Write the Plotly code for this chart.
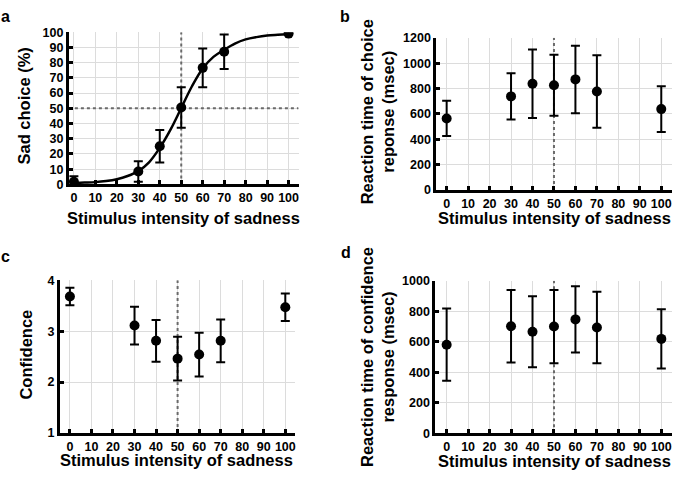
import plotly.graph_objects as go

W, H = 675, 483

# ---- data ----
stim = [0, 30, 40, 50, 60, 70, 100]
sad_choice = [1.7, 8.5, 25.1, 50.6, 76.6, 87.2, 99.1]
sad_choice_err = [3.6, 6.8, 10.7, 13.3, 12.8, 11.4, 0.0]

curve_x = [0, 5, 10, 15, 20, 25, 30, 35, 40, 45, 50, 55, 60, 65, 70, 75, 80, 85, 90, 95, 100]
curve_y = [1.0, 1.2, 1.5, 2.2, 3.4, 5.5, 8.7, 14.5, 24.0, 36.0, 50.2, 64.5, 76.2, 83.8, 88.5, 92.6, 95.3, 96.8, 97.8, 98.3, 98.7]

rt_choice = [564, 738, 838, 826, 872, 777, 638]
rt_choice_err = [139, 182, 270, 241, 266, 286, 180]

confidence = [3.68, 3.11, 2.81, 2.46, 2.54, 2.81, 3.47]
confidence_err = [0.17, 0.37, 0.41, 0.43, 0.43, 0.42, 0.27]

rt_conf = [581, 702, 666, 700, 747, 694, 619]
rt_conf_err = [237, 238, 233, 240, 217, 234, 194]

x_ticks = [0, 10, 20, 30, 40, 50, 60, 70, 80, 90, 100]

FONT = "Liberation Sans"

def px_x(p):
    return p / W

def px_y(p):
    return 1 - p / H

fig = go.Figure()

panels = [
    ("", (69, 299), (26, 182.7), [-2.33, 104.65], [0, 100], list(range(0, 101, 10))),
    ("2", (437, 673), (31.7, 188.5), [-4.8, 105.0], [0, 1200], list(range(0, 1201, 200))),
    ("3", (60, 295), (281.3, 438.8), [-4.64, 104.3], [1, 4], [1, 2, 3, 4]),
    ("4", (436, 673), (282, 439), [-5.26, 104.98], [0, 1000], list(range(0, 1001, 200))),
]

series = [
    (sad_choice, sad_choice_err),
    (rt_choice, rt_choice_err),
    (confidence, confidence_err),
    (rt_conf, rt_conf_err),
]

tickfont = dict(family=FONT, size=12.5, color="black", weight="bold")

for (suf, xd, yd, xr, yr, yt), (vals, errs) in zip(panels, series):
    xa = "x" + suf
    ya = "y" + suf
    fig.add_trace(go.Scatter(x=[50, 50], y=[yr[0], yr[1]], mode="lines",
                             line=dict(color="#6a6a6a", width=2, dash="dot"),
                             xaxis=xa, yaxis=ya, showlegend=False, hoverinfo="skip"))
    if suf == "":
        fig.add_trace(go.Scatter(x=[xr[0], xr[1]], y=[50, 50], mode="lines",
                                 line=dict(color="#6a6a6a", width=2, dash="dot"),
                                 xaxis=xa, yaxis=ya, showlegend=False, hoverinfo="skip"))
        fig.add_trace(go.Scatter(x=curve_x, y=curve_y, mode="lines",
                                 line=dict(color="black", width=2.5, shape="spline"),
                                 xaxis=xa, yaxis=ya, showlegend=False, hoverinfo="skip"))
    fig.add_trace(go.Scatter(x=stim, y=vals, mode="markers",
                             marker=dict(color="black", size=10),
                             error_y=dict(type="data", array=errs, color="black",
                                          thickness=2, width=4.5),
                             xaxis=xa, yaxis=ya, showlegend=False))

    axx = dict(domain=[px_x(xd[0]), px_x(xd[1])], range=xr, tickmode="array",
               tickvals=x_ticks, ticktext=[str(t) for t in x_ticks],
               ticks="inside", ticklen=4, tickwidth=3, tickcolor="black",
               showline=True, linecolor="black", linewidth=3,
               showgrid=True, gridcolor="#dcdcdc", gridwidth=1,
               zeroline=False, tickfont=tickfont, anchor=ya, fixedrange=True)
    axy = dict(domain=[px_y(yd[1]), px_y(yd[0])], range=yr, tickmode="array",
               tickvals=yt, ticktext=[str(t) for t in yt],
               ticks="inside", ticklen=4, tickwidth=3, tickcolor="black",
               showline=True, linecolor="black", linewidth=3,
               showgrid=True, gridcolor="#dcdcdc", gridwidth=1,
               zeroline=False, tickfont=tickfont, anchor=xa, fixedrange=True)
    fig.layout["xaxis" + suf] = axx
    fig.layout["yaxis" + suf] = axy

annots = []
titlefont = dict(family=FONT, size=16.5, color="black", weight="bold")
for letter, x, y in [("a", 6, 10), ("b", 346, 10), ("c", 6, 257), ("d", 347, 253)]:
    annots.append(dict(text=letter, x=px_x(x), y=px_y(y), xref="paper", yref="paper",
                       showarrow=False, xanchor="center", yanchor="middle",
                       font=dict(family=FONT, size=16, color="black", weight="bold")))
for x, y in [(184, 217), (555, 217), (177, 467), (555, 468)]:
    annots.append(dict(text="Stimulus intensity of sadness", x=px_x(x), y=px_y(y),
                       xref="paper", yref="paper", showarrow=False,
                       xanchor="center", yanchor="middle", font=titlefont))
for text, x, y in [("Sad choice (%)", 24.5, 102),
                   ("Reaction time of choice<br>reponse (msec)", 378, 108),
                   ("Confidence", 26, 358),
                   ("Reaction time of confidence<br>response (msec)", 378, 360)]:
    annots.append(dict(text=text, x=px_x(x), y=px_y(y), xref="paper", yref="paper",
                       showarrow=False, xanchor="center", yanchor="middle",
                       textangle=-90, font=titlefont))

fig.update_layout(width=W, height=H, margin=dict(l=0, r=0, t=0, b=0),
                  paper_bgcolor="white", plot_bgcolor="white",
                  annotations=annots, showlegend=False)

POST = (
    "var s=document.createElement('style');"
    "s.textContent='html,body{margin:0!important;padding:0!important;overflow:hidden!important;"
    "width:675px!important;height:483px!important}';"
    "document.head.appendChild(s);"
    "var g=document.getElementById('{plot_id}');"
    "g.style.position='absolute';g.style.left='0px';g.style.top='0px';"
)

fig.write_html("out.html", config={"displayModeBar": False}, post_script=POST)
